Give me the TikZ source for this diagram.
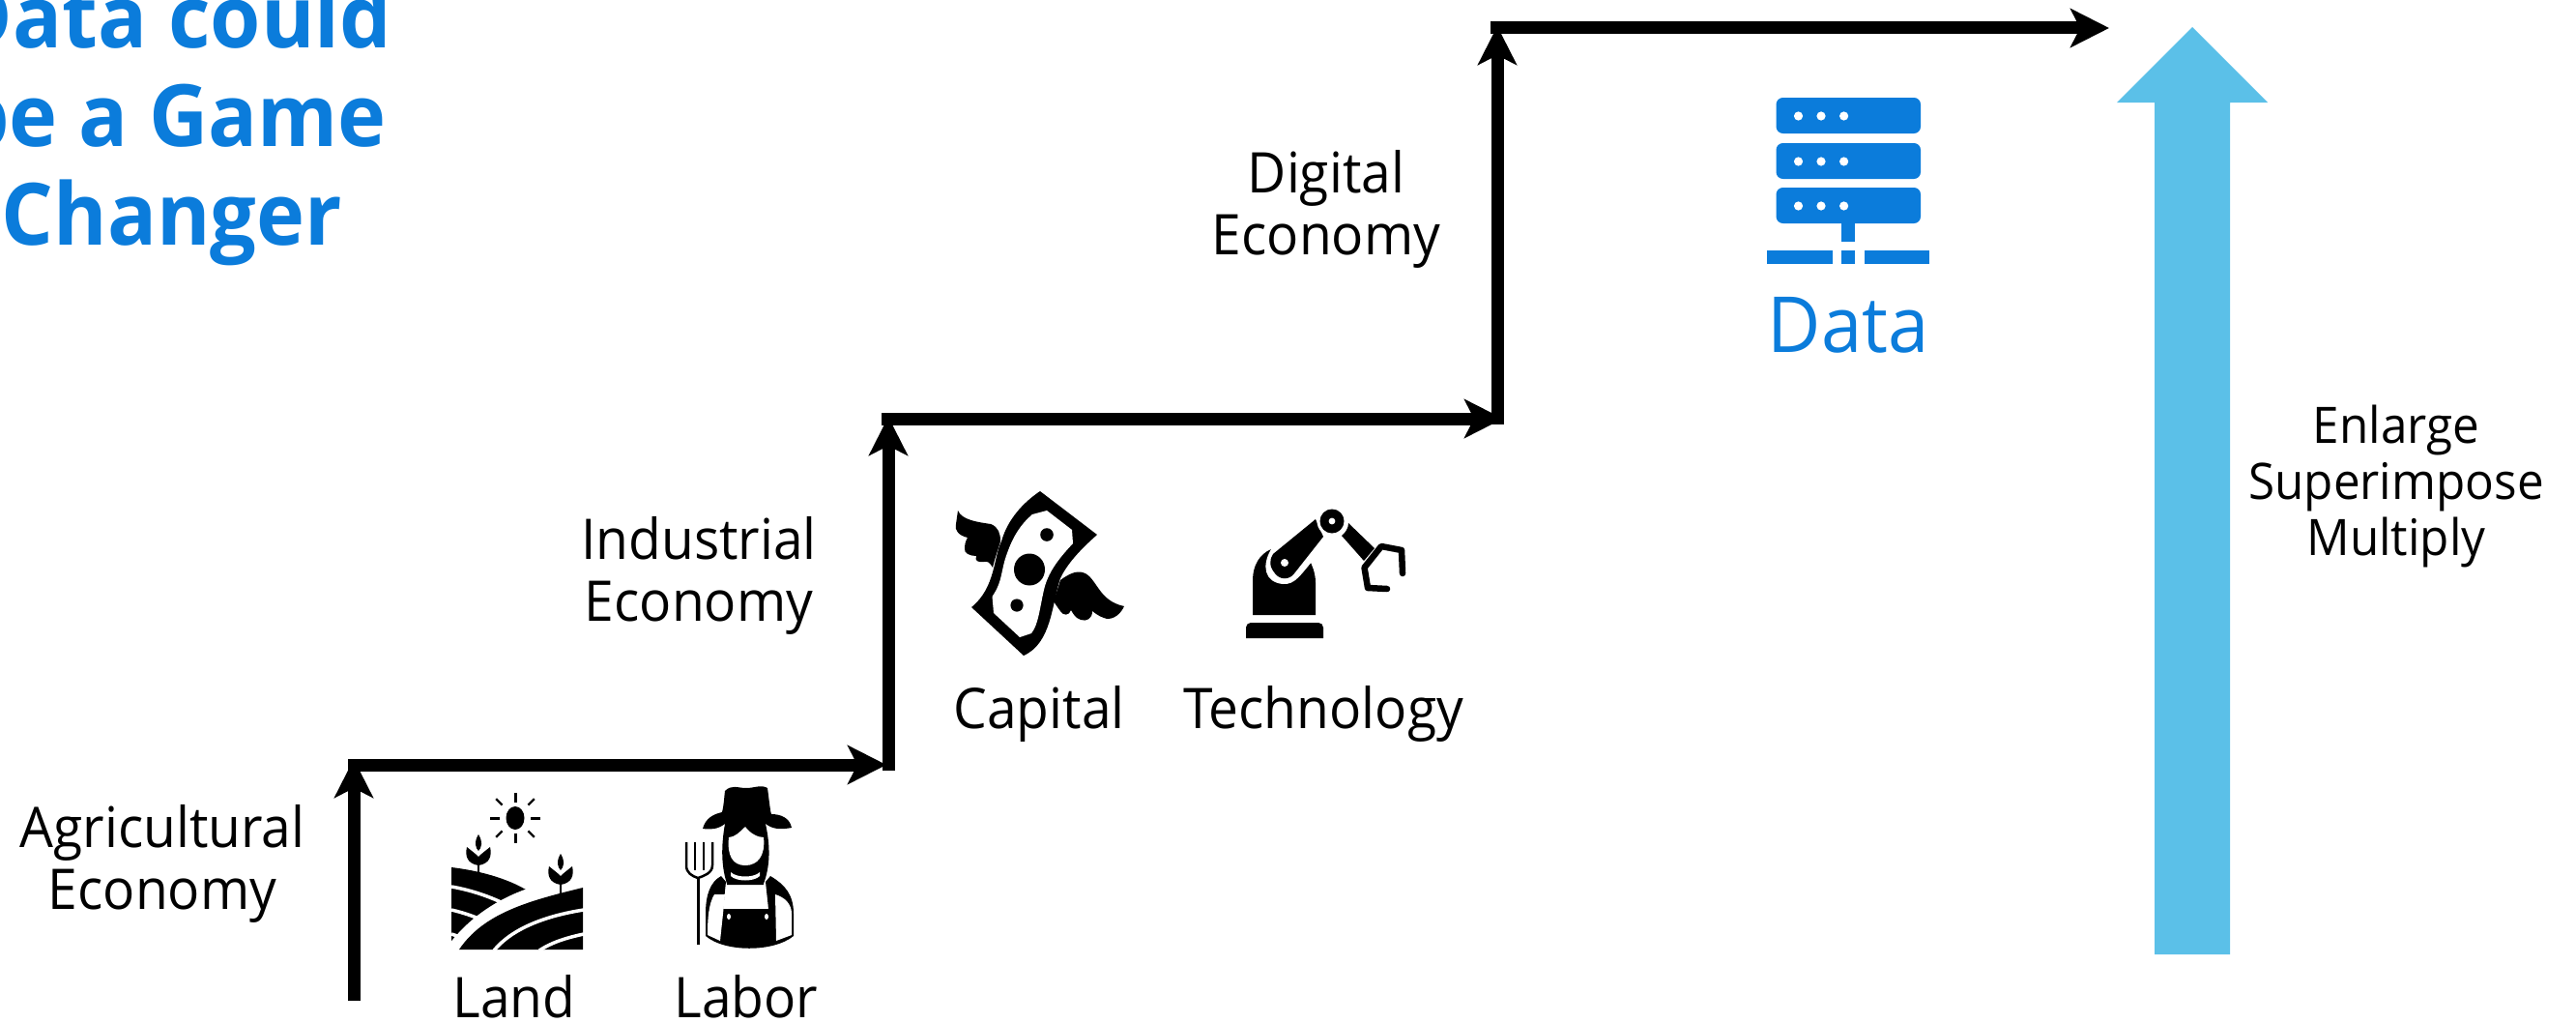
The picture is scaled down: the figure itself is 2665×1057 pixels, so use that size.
\documentclass[tikz,border=0pt]{standalone}
\usepackage{fontspec}
\setmainfont{Open Sans}[FakeStretch=0.95]
\usetikzlibrary{arrows.meta}
\definecolor{dblue}{HTML}{0B7CDB}
\definecolor{lblue}{HTML}{5BC0E8}
\tikzset{
  x=1pt,y=-1pt,
  stair/.style={line width=13pt,draw=black,-{Stealth[length=40pt,width=40pt,inset=10pt]}},
  lab/.style={anchor=base,inner sep=0pt,align=center,font=\fontsize{58}{64}\selectfont,text=black},
  ttl/.style={anchor=base,inner sep=0pt,align=center,font=\fontsize{89}{102}\selectfont\bfseries,text=dblue},
  ink/.style={fill=black,draw=none},
  srv/.style={fill=dblue,draw=none},
}
\begin{document}
\begin{tikzpicture}
\path[use as bounding box,fill=white] (0,0) rectangle (2665,1057);
% title
\node[ttl] (title) at (178,253) {Data could\\be a Game\\Changer};
% staircase
\coordinate (s0) at (366,1035);
\coordinate (s0t) at (366,785);
\coordinate (s1l) at (360,791);
\coordinate (s1r) at (917,791);
\coordinate (s1b) at (919,797);
\coordinate (s1t) at (919,431);
\coordinate (s2l) at (912,433);
\coordinate (s2r) at (1555,433);
\coordinate (s2b) at (1549,439);
\coordinate (s2t) at (1549,27);
\coordinate (s3l) at (1542,29);
\coordinate (s3r) at (2182,29);
\draw[stair] (s0) -- (s0t);
\draw[stair] (s1l) -- (s1r);
\draw[stair] (s1b) -- (s1t);
\draw[stair] (s2l) -- (s2r);
\draw[stair] (s2b) -- (s2t);
\draw[stair] (s3l) -- (s3r);
% big arrow
\fill[lblue] (2268,28) -- (2346,106) -- (2307,106) -- (2307,987) -- (2229,987) -- (2229,106) -- (2190,106) -- cycle;
% labels
\node[lab] (agri) at (168,940) {Agricultural\\Economy};
\node[lab] (land) at (532,1052) {Land};
\node[lab] (labor) at (772,1052) {Labor};
\node[lab] (ind) at (723,642) {Industrial\\Economy};
\node[lab] (cap) at (1075,753) {Capital};
\node[lab] (tech) at (1369,753) {Technology};
\node[lab] (dig) at (1372,263) {Digital\\Economy};
\node[lab,font=\fontsize{52}{58}\selectfont] (enl) at (2479,574) {Enlarge\\Superimpose\\Multiply};
\node[lab,font=\fontsize{80}{80}\selectfont,text=dblue] (data) at (1912,364) {Data};
% server icon
\foreach \yy in {101,148,194}{
  \fill[srv,rounded corners=7pt] (1837.5,\yy) rectangle (1987,\yy+37);
  \foreach \xx in {1860.5,1884,1907.6}
    \fill[white] (\xx,\yy+19) circle (4.6);
}
\fill[srv] (1905,229) rectangle (1919,250);
\fill[srv] (1828,259) rectangle (1896,273);
\fill[srv] (1905,259) rectangle (1919,273);
\fill[srv] (1929,259) rectangle (1996,273);
% sun
\fill[ink] (533,846) ellipse (9.5 and 12);
\foreach \a in {0,90,180,270}
  \draw[black,line width=3pt] (533,846) ++(\a:16) -- ++(\a:10);
\foreach \a in {45,135,225,315}
  \draw[black,line width=2.4pt] (533,846) ++(\a:19) -- ++(\a:9);
% land
\path[ink] (467,897) .. controls (500,901) and (530,910) .. (552,925) -- (552,982) -- (467,982) -- cycle;
\draw[white,line width=3.5pt] (467,917) .. controls (490,921) and (512,929) .. (530,939);
\draw[white,line width=3.5pt] (467,941) .. controls (480,944) and (495,949) .. (508,956);
\draw[white,line width=3.5pt] (467,966) -- (482,971);
\path[fill=white] (455,990) .. controls (490,935) and (545,912) .. (610,905) -- (610,990) -- cycle;
\path[ink] (475,982) .. controls (500,945) and (545,932) .. (603,918) -- (603,982) -- cycle;
\draw[white,line width=3.5pt] (511,983) .. controls (530,960) and (565,947) .. (604,941);
\draw[white,line width=3.5pt] (558,983) .. controls (570,975) and (585,970) .. (604,966);
% sprouts
\foreach \px/\py in {495/863,580/883}{
  \fill[ink] (\px,\py) .. controls (\px+5,\py+8) and (\px+3,\py+14) .. (\px,\py+17) .. controls (\px-3,\py+14) and (\px-5,\py+8) .. (\px,\py) -- cycle;
  \fill[ink] (\px,\py+32) .. controls (\px-12,\py+30) and (\px-14,\py+22) .. (\px-12,\py+13) .. controls (\px-7,\py+17) and (\px-3,\py+20) .. (\px,\py+23) .. controls (\px+3,\py+20) and (\px+7,\py+17) .. (\px+12,\py+13) .. controls (\px+14,\py+22) and (\px+12,\py+30) .. (\px,\py+32) -- cycle;
  \draw[black,line width=2.4pt] (\px,\py+25) -- (\px,\py+42);
}
% farmer
\path[ink] (750,818) .. controls (757,811) and (763,815) .. (772,815) .. controls (781,815) and (787,811) .. (794,815) .. controls (796,830) and (797,840) .. (798,842) .. controls (808,842) and (817,846) .. (819,856) .. controls (808,858) and (800,858) .. (792,852) -- (750,852) .. controls (742,858) and (735,858) .. (727,857) .. controls (730,846) and (738,842) .. (747,840) .. controls (749,832) and (749,826) .. (750,818) -- cycle;
\path[ink] (750,852) .. controls (746,875) and (746,895) .. (752,914) -- (790,914) .. controls (797,895) and (797,875) .. (792,852) -- cycle;
\path[fill=white] (754,866) .. controls (760,866) and (766,860) .. (771,855) .. controls (776,862) and (784,866) .. (790,866) .. controls (792,885) and (784,895) .. (771,895) .. controls (758,895) and (752,885) .. (754,866) -- cycle;
\path[ink] (754,900) .. controls (762,907) and (780,907) .. (789,900) -- (790,915) -- (752,915) -- cycle;
\path[fill=white] (756,902) .. controls (762,908) and (780,908) .. (786,902) -- (786,906) .. controls (780,912) and (762,912) .. (756,906) -- cycle;
\path[ink] (746,906) -- (751,912) -- (748,940) -- (795,940) -- (792,912) -- (797,906) .. controls (812,915) and (821,925) .. (821,945) -- (821,968) .. controls (800,985) and (750,985) .. (730,968) -- (730,945) .. controls (730,925) and (735,912) .. (746,906) -- cycle;
\path[fill=white] (739,925) .. controls (733,935) and (732,950) .. (732,967) -- (745,973) -- (748,945) -- (750,925) -- cycle;
\path[fill=white] (802,925) -- (803,973) -- (819,967) -- (819,945) .. controls (819,935) and (812,928) .. (802,925) -- cycle;
\fill[white] (754,948) ellipse (2 and 3);
\fill[white] (793,948) ellipse (2 and 3);
\draw[black,line width=3pt] (722,908) -- (722,977);
\draw[black,line width=2.5pt] (710,871) -- (710,895) .. controls (710,903) and (716,906) .. (722,908) .. controls (728,906) and (737,903) .. (737,895) -- (737,871);
\draw[black,line width=2.5pt] (719,871) -- (719,900);
\draw[black,line width=2.5pt] (728,871) -- (728,900);
% capital
\path[ink] (1076,508) -- (1135,553) .. controls (1118,568) and (1104,583) .. (1097,598) .. controls (1088,625) and (1088,665) .. (1059,678) -- (1005,628) .. controls (1030,608) and (1028,575) .. (1036,560) .. controls (1042,538) and (1058,520) .. (1076,508) -- cycle;
\path[fill=white] (1068,532) -- (1083,528) -- (1109,548) -- (1110,562) .. controls (1095,578) and (1086,590) .. (1081,606) .. controls (1076,625) and (1075,645) .. (1067,655) -- (1055,659) -- (1028,634) -- (1026.5,617) .. controls (1038,600) and (1035,590) .. (1042,572) .. controls (1048,555) and (1056,542) .. (1068,532) -- cycle;
\fill[ink] (1083,553) circle (6.8);
\fill[ink] (1065,589) ellipse (16 and 16.5);
\fill[ink] (1052,626) circle (6.6);
\path[ink] (991,528) .. controls (995,538) and (1012,540) .. (1025,542) .. controls (1033,545) and (1035,552) .. (1035,560) .. controls (1032,570) and (1029,578) .. (1027,587) .. controls (1024,582) and (1022,580) .. (1018,581) .. controls (1012,582) and (1008,580) .. (1010,575) .. controls (1003,575) and (997,572) .. (998,567) .. controls (998,561) and (1000,558) .. (1001,556) .. controls (992,554) and (987,548) .. (989,542) -- cycle;
\path[ink] (1097,600) .. controls (1105,594) and (1113,590) .. (1120,592) .. controls (1128,594) and (1132,603) .. (1139,612) .. controls (1146,621) and (1154,625) .. (1163,627) .. controls (1158,638) and (1148,642) .. (1142,639) .. controls (1136,637) and (1133,634) .. (1130,632) .. controls (1130,640) and (1124,643) .. (1118,641) .. controls (1112,639) and (1110,634) .. (1108,631) .. controls (1106,637) and (1100,637) .. (1097,632) .. controls (1094,628) and (1092,625) .. (1090,622) -- cycle;
% technology
\path[ink,rounded corners=5pt] (1289,660) -- (1289,644) -- (1369,644) -- (1369,660);
\fill[ink] (1289,660) rectangle (1369,652);
\path[ink] (1296,636) -- (1296,600) .. controls (1296,585) and (1303,573) .. (1315,568) -- (1340,590) -- (1355,580) .. controls (1359,588) and (1361,595) .. (1361,603) -- (1361,636) -- cycle;
\path[fill=white] (1315,568) .. controls (1305,585) and (1308,602) .. (1327,604) .. controls (1340,605) and (1345,595) .. (1362,575) -- (1355,555) -- (1330,555) -- cycle;
\path[ink] (1361,537) -- (1369,555) -- (1339,593) .. controls (1334,600) and (1324,600) .. (1319,593) .. controls (1313,586) and (1313,579) .. (1317,573) -- cycle;
\fill[white] (1329,582) circle (4);
\fill[white] (1378,539) circle (15.5);
\fill[ink] (1378,539) circle (12.5);
\fill[white] (1378,539) circle (3.4);
\path[ink] (1395,541) -- (1422,567) -- (1411,580) -- (1388,554) .. controls (1392,551) and (1395,546) .. (1395,541) -- cycle;
\draw[black,line width=6.5pt,line cap=round,line join=round] (1451,593) -- (1450,569) -- (1429,565) -- (1411.5,587) -- (1415,608) -- (1435,609);
\end{tikzpicture}
\end{document}
